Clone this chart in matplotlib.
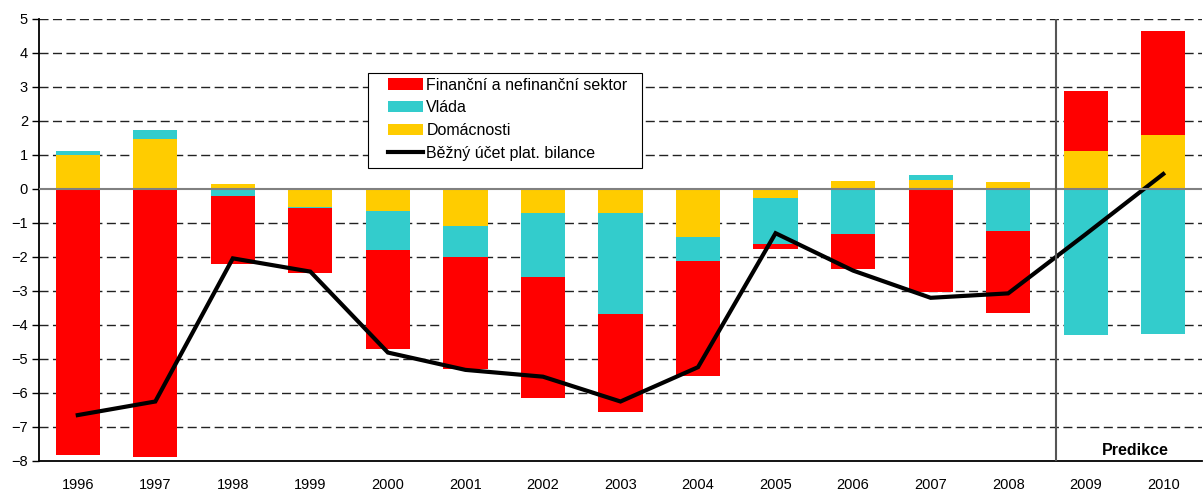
import numpy as np
import matplotlib.pyplot as plt
from matplotlib.patches import Rectangle

plt.rcParams['font.family'] = ['Liberation Sans', 'DejaVu Sans']

years = ['1996', '1997', '1998', '1999', '2000', '2001', '2002', '2003',
         '2004', '2005', '2006', '2007', '2008', '2009', '2010']

# sector contributions (stacked from zero: domacnosti, vlada, financni)
domacnosti = [1.00, 1.47, 0.15, -0.54, -0.65, -1.09, -0.71, -0.71,
              -1.41, -0.26, 0.24, 0.26, 0.21, 1.12, 1.59]
vlada = [0.12, 0.27, -0.20, -0.03, -1.14, -0.91, -1.88, -2.97,
         -0.71, -1.37, -1.32, 0.15, -1.24, -4.29, -4.26]
financni = [-7.82, -7.87, -2.02, -1.89, -2.91, -3.29, -3.56, -2.88,
            -3.38, -0.13, -1.03, -3.02, -2.40, 1.76, 3.06]
bezny_ucet = [-6.65, -6.25, -2.04, -2.43, -4.81, -5.32, -5.52, -6.25,
              -5.24, -1.30, -2.40, -3.20, -3.07, -1.33, 0.44]

c_red = '#FF0000'
c_cyan = '#33CCCC'
c_yellow = '#FFCC00'

fig = plt.figure(figsize=(12.03, 4.92), dpi=100)
ax = fig.add_axes([39 / 1203, 1 - 461 / 492, 1163 / 1203, 442 / 492])

x = np.arange(len(years))
w = 0.57

# stack positives and negatives separately
pos_base = np.zeros(len(years))
neg_base = np.zeros(len(years))
bars = {}
for name, vals, col in [('Domácnosti', domacnosti, c_yellow),
                        ('Vláda', vlada, c_cyan),
                        ('Finanční a nefinanční sektor', financni, c_red)]:
    vals = np.array(vals)
    base = np.where(vals >= 0, pos_base, neg_base)
    bars[name] = ax.bar(x, vals, w, bottom=base, color=col, zorder=3,
                        linewidth=0)
    pos_base = pos_base + np.where(vals >= 0, vals, 0)
    neg_base = neg_base + np.where(vals < 0, vals, 0)

line, = ax.plot(x, bezny_ucet, color='black', lw=3, zorder=4,
                solid_joinstyle='miter')

ax.set_xlim(-0.5, 14.5)
ax.set_ylim(-8, 5)
ax.set_yticks(np.arange(-8, 6, 1))
ax.set_xticks(x)
ax.set_xticklabels(years)
ax.tick_params(axis='x', length=0, pad=12, labelsize=10.5)
ax.tick_params(axis='y', length=5, width=1, pad=3, labelsize=10.5)

for v in range(-7, 6):
    if v == 0:
        continue
    ax.axhline(v, color='#222222', lw=1, dashes=(6.5, 3.2), zorder=1)
ax.axhline(0, color='#808080', lw=1.5, zorder=5)

for s in ['top', 'right']:
    ax.spines[s].set_visible(False)
ax.spines['left'].set_linewidth(1.3)
ax.spines['bottom'].set_linewidth(1.3)

ax.axvline(12.62, color='#555555', lw=1.5, zorder=5)
ax.text(13.64, -7.68, 'Predikce', ha='center', va='center',
        fontsize=11.5, fontweight='bold')

# legend box drawn separately (wider side padding than legend allows)
ax.add_patch(Rectangle((368 / 1203, 1 - 168 / 492), 274 / 1203,
                       95.3 / 492, transform=fig.transFigure,
                       facecolor='white', edgecolor='black', lw=0.8,
                       zorder=6, clip_on=False))
leg = ax.legend([bars['Finanční a nefinanční sektor'], bars['Vláda'],
                 bars['Domácnosti'], line],
                ['Finanční a nefinanční sektor', 'Vláda', 'Domácnosti',
                 'Běžný účet plat. bilance'],
                loc='upper left', bbox_to_anchor=(0.3001, 0.8676),
                fontsize=11.5, frameon=False, handlelength=2.2,
                handleheight=0.7, handletextpad=0.2, labelspacing=0.49,
                borderpad=0, borderaxespad=0)
leg.set_zorder(7)

fig.savefig('out.png', dpi=100)
